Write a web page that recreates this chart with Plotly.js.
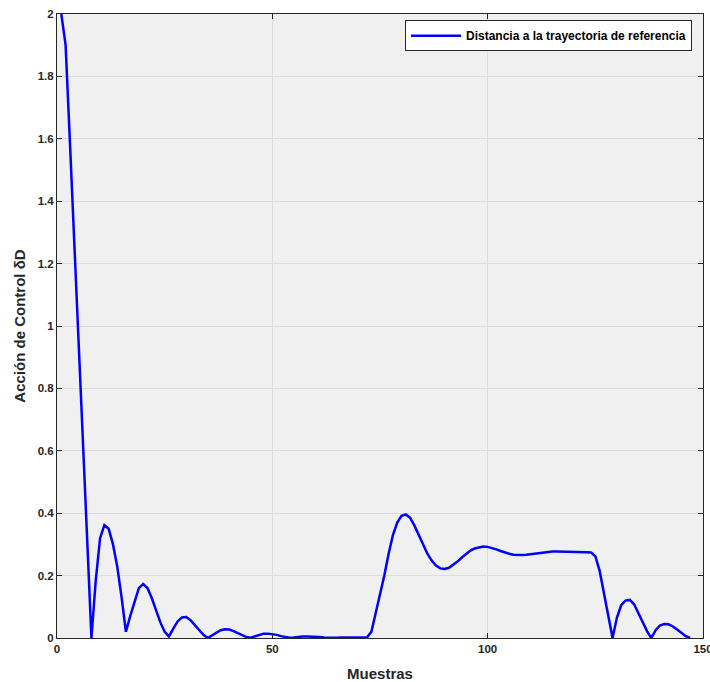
<!DOCTYPE html>
<html>
<head>
<meta charset="utf-8">
<script src="https://cdn.plot.ly/plotly-3.0.1.min.js"></script>
<style>
  html, body { margin: 0; padding: 0; background: #ffffff; }
  #chart { width: 710px; height: 682px; }
</style>
</head>
<body>
<div id="chart"></div>
<script>
// Sample index (Muestras)
const muestras = [
  1, 2, 3, 4, 5, 6, 7, 8, 9, 10,
  11, 12, 13, 14, 15, 16, 17, 18, 19, 20,
  21, 22, 23, 24, 25, 26, 27, 28, 29, 30,
  31, 32, 33, 34, 35, 36, 37, 38, 39, 40,
  41, 42, 43, 44, 45, 46, 47, 48, 49, 50,
  51, 52, 53, 54, 55, 56, 57, 58, 59, 60,
  61, 62, 63, 64, 65, 66, 67, 68, 69, 70,
  71, 72, 73, 74, 75, 76, 77, 78, 79, 80,
  81, 82, 83, 84, 85, 86, 87, 88, 89, 90,
  91, 92, 93, 94, 95, 96, 97, 98, 99, 100,
  101, 102, 103, 104, 105, 106, 107, 108, 109, 110,
  111, 112, 113, 114, 115, 116, 117, 118, 119, 120,
  121, 122, 123, 124, 125, 126, 127, 128, 129, 130,
  131, 132, 133, 134, 135, 136, 137, 138, 139, 140,
  141, 142, 143, 144, 145, 146, 147
];

// Control action deltaD: distance to the reference trajectory
const distancia = [
  2.00, 1.90, 1.59, 1.27, 0.95, 0.63, 0.32, 0.00, 0.185, 0.32,
  0.362, 0.350, 0.300, 0.228, 0.130, 0.020, 0.070, 0.119, 0.160, 0.173,
  0.160, 0.128, 0.090, 0.050, 0.020, 0.005, 0.030, 0.053, 0.066, 0.067,
  0.057, 0.041, 0.025, 0.010, 0.000, 0.008, 0.018, 0.025, 0.028, 0.027,
  0.022, 0.015, 0.008, 0.003, 0.001, 0.006, 0.011, 0.014, 0.014, 0.013,
  0.010, 0.006, 0.003, 0.001, 0.002, 0.004, 0.005, 0.005, 0.005, 0.004,
  0.003, 0.002, 0.001, 0.001, 0.001, 0.002, 0.002, 0.002, 0.002, 0.001,
  0.001, 0.002, 0.020, 0.080, 0.135, 0.200, 0.270, 0.330, 0.370, 0.392,
  0.396, 0.385, 0.360, 0.330, 0.300, 0.270, 0.248, 0.232, 0.223, 0.221,
  0.225, 0.234, 0.245, 0.258, 0.270, 0.280, 0.287, 0.291, 0.293, 0.292,
  0.289, 0.284, 0.279, 0.274, 0.270, 0.267, 0.266, 0.266, 0.267, 0.269,
  0.271, 0.273, 0.275, 0.276, 0.277, 0.277, 0.277, 0.277, 0.277, 0.276,
  0.276, 0.275, 0.275, 0.274, 0.262, 0.215, 0.145, 0.070, 0.000, 0.065,
  0.105, 0.120, 0.122, 0.108, 0.080, 0.050, 0.022, 0.000, 0.025, 0.040,
  0.045, 0.044, 0.037, 0.027, 0.016, 0.006, 0.000
];

const xTicks = [0, 50, 100, 150];
const yTicks = [0, 0.2, 0.4, 0.6, 0.8, 1, 1.2, 1.4, 1.6, 1.8, 2];
const yTickText = ['0', '0.2', '0.4', '0.6', '0.8', '1', '1.2', '1.4', '1.6', '1.8', '2'];

const serieNombre = 'Distancia a la trayectoria de referencia';
const tituloX = 'Muestras';
const tituloY = 'Acción de Control δD';

const fuente = 'Liberation Sans, Arial, Helvetica, sans-serif';
const ejeColor = '#262626';
const rejilla = '#dcdcdc';

const trace = {
  x: muestras,
  y: distancia,
  type: 'scatter',
  mode: 'lines',
  name: serieNombre,
  line: { color: '#0000ff', width: 2.5 },
  cliponaxis: true
};

const axisCommon = {
  showline: true,
  linecolor: ejeColor,
  linewidth: 1,
  mirror: 'allticks',
  ticks: 'inside',
  ticklen: 5,
  tickwidth: 1,
  tickcolor: ejeColor,
  showgrid: true,
  gridcolor: rejilla,
  gridwidth: 1,
  zeroline: false,
  ticklabeloverflow: 'allow',
  tickfont: { family: fuente, size: 11.5, color: ejeColor, weight: 'bold' },
  fixedrange: true
};

const layout = {
  width: 710,
  height: 682,
  paper_bgcolor: '#ffffff',
  plot_bgcolor: '#f0f0f0',
  margin: { l: 57, r: 7, t: 14, b: 44, pad: 0 },
  showlegend: true,
  font: { family: fuente, color: ejeColor },
  xaxis: Object.assign({}, axisCommon, {
    range: [0, 150],
    tickmode: 'array',
    tickvals: xTicks,
    ticktext: xTicks.map(String),
    title: {
      text: tituloX,
      font: { family: fuente, size: 15, color: ejeColor, weight: 'bold' },
      standoff: 14
    }
  }),
  yaxis: Object.assign({}, axisCommon, {
    range: [0, 2],
    tickmode: 'array',
    tickvals: yTicks,
    ticktext: yTickText,
    title: {
      text: tituloY,
      font: { family: fuente, size: 15, color: ejeColor, weight: 'bold' },
      standoff: 8
    }
  }),
  legend: {
    x: 0.983,
    y: 0.99,
    xanchor: 'right',
    yanchor: 'top',
    bgcolor: '#ffffff',
    bordercolor: ejeColor,
    borderwidth: 1,
    font: { family: fuente, size: 12, color: '#000000', weight: 'bold' },
    itemwidth: 50
  }
};

Plotly.newPlot('chart', [trace], layout, { displayModeBar: false, staticPlot: true });
</script>
</body>
</html>
